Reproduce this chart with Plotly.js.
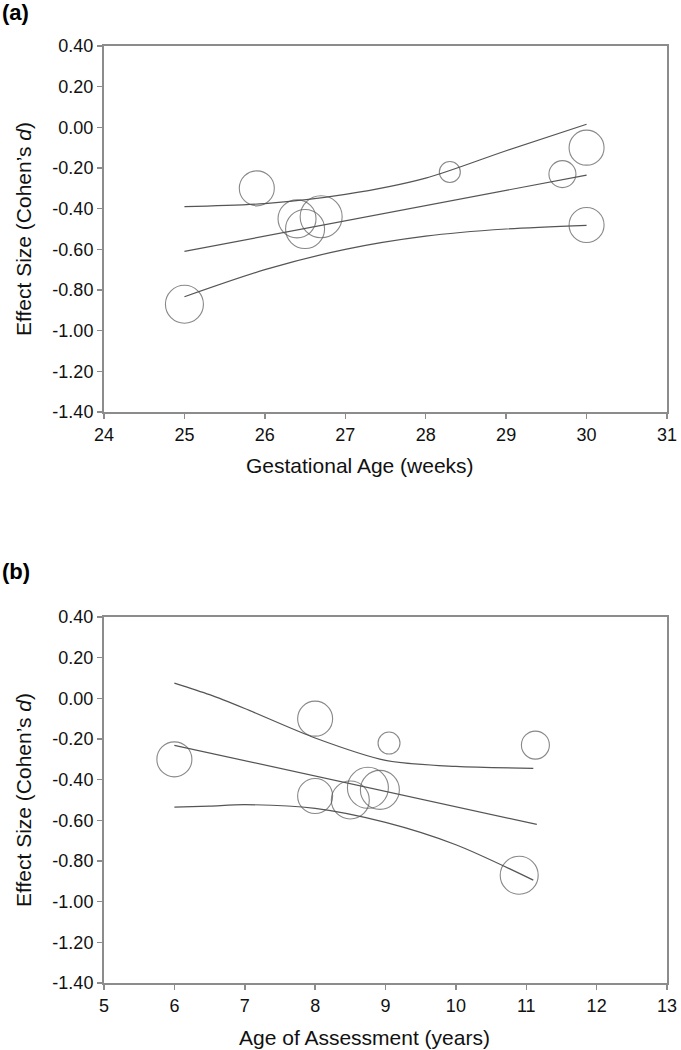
<!DOCTYPE html>
<html>
<head>
<meta charset="utf-8">
<script src="https://cdn.plot.ly/plotly-3.0.1.min.js"></script>
<style>html,body{margin:0;padding:0;background:#fff;}#chart{width:681px;height:1050px;}</style>
</head>
<body>
<div id="chart"></div>
<script>
// ---- Panel (a): gestational age ----
const aStudyX = [25.9, 26.4, 26.5, 26.7, 25.0, 28.3, 29.7, 30.0, 30.0];
const aStudyY = [-0.30, -0.45, -0.50, -0.44, -0.87, -0.22, -0.23, -0.10, -0.48];
const aStudySize = [35, 38, 39, 42, 38, 21, 27, 35, 35];
const aFitX = [25, 30];
const aFitY = [-0.61, -0.235];
const aBandX = [25, 26, 27, 28, 29, 30];
const aUpper = [-0.39, -0.375, -0.33, -0.25, -0.115, 0.015];
const aLower = [-0.833, -0.70, -0.60, -0.535, -0.50, -0.482];

// ---- Panel (b): age of assessment ----
const bStudyX = [6.0, 8.92, 8.5, 8.75, 10.9, 9.05, 11.13, 8.0, 8.0];
const bStudyY = [-0.30, -0.45, -0.50, -0.44, -0.87, -0.22, -0.23, -0.10, -0.48];
const bStudySize = [35, 39, 38, 41, 38, 22, 28, 35, 35];
const bFitX = [6.0, 11.15];
const bFitY = [-0.231, -0.62];
const bBandX = [6, 6.5, 7, 8, 9, 10, 11.1];
const bUpper = [0.075, 0.018, -0.05, -0.195, -0.305, -0.335, -0.344];
const bLower = [-0.535, -0.53, -0.523, -0.541, -0.61, -0.72, -0.894];

// tick labels
const yTickVals = [0.4, 0.2, 0.0, -0.2, -0.4, -0.6, -0.8, -1.0, -1.2, -1.4];
const yTickText = ['0.40', '0.20', '0.00', '-0.20', '-0.40', '-0.60', '-0.80', '-1.00', '-1.20', '-1.40'];
const aXTicks = [24, 25, 26, 27, 28, 29, 30, 31];
const bXTicks = [5, 6, 7, 8, 9, 10, 11, 12, 13];

const lineC = '#555555';
const FONT = 'Liberation Sans, Arial, sans-serif';

function lineTrace(x, y, xa, ya, shape) {
  return {x: x, y: y, xaxis: xa, yaxis: ya, type: 'scatter', mode: 'lines',
    line: {color: lineC, width: 1.2, shape: shape || 'linear', smoothing: 0.8},
    hoverinfo: 'skip', showlegend: false};
}
function studyTrace(x, y, s, xa, ya) {
  return {x: x, y: y, xaxis: xa, yaxis: ya, type: 'scatter', mode: 'markers',
    marker: {symbol: 'circle-open', size: s, color: lineC, line: {width: 1.1, color: lineC}},
    showlegend: false};
}

const data = [
  lineTrace(aBandX, aUpper, 'x', 'y', 'spline'),
  lineTrace(aFitX, aFitY, 'x', 'y'),
  lineTrace(aBandX, aLower, 'x', 'y', 'spline'),
  studyTrace(aStudyX, aStudyY, aStudySize, 'x', 'y'),
  lineTrace(bBandX, bUpper, 'x2', 'y2', 'spline'),
  lineTrace(bFitX, bFitY, 'x2', 'y2'),
  lineTrace(bBandX, bLower, 'x2', 'y2', 'spline'),
  studyTrace(bStudyX, bStudyY, bStudySize, 'x2', 'y2')
];

const axisCommon = {
  showgrid: false, zeroline: false, showline: true, mirror: true,
  linecolor: '#8c8c8c', linewidth: 2, ticks: 'outside', ticklen: 5,
  tickcolor: '#8c8c8c', tickwidth: 1.5,
  tickfont: {family: FONT, size: 18, color: '#111'}
};

const layout = {
  width: 681, height: 1050,
  margin: {l: 104, r: 14, t: 46, b: 67},
  paper_bgcolor: '#fff', plot_bgcolor: '#fff',
  font: {family: FONT, color: '#111'},
  xaxis: Object.assign({}, axisCommon, {range: [24, 31], tickvals: aXTicks, anchor: 'y', domain: [0, 1]}),
  yaxis: Object.assign({}, axisCommon, {range: [-1.4, 0.4], tickvals: yTickVals, ticktext: yTickText, anchor: 'x', domain: [0.6094, 1]}),
  xaxis2: Object.assign({}, axisCommon, {range: [5, 13], tickvals: bXTicks, anchor: 'y2', domain: [0, 1]}),
  yaxis2: Object.assign({}, axisCommon, {range: [-1.4, 0.4], tickvals: yTickVals, ticktext: yTickText, anchor: 'x2', domain: [0, 0.3906]}),
  annotations: [
    {text: '<b>(a)</b>', xref: 'paper', yref: 'paper', x: -0.185, y: 1.0357, xanchor: 'left', yanchor: 'middle',
     showarrow: false, font: {family: FONT, size: 22, color: '#000'}},
    {text: '<b>(b)</b>', xref: 'paper', yref: 'paper', x: -0.185, y: 0.439, xanchor: 'left', yanchor: 'middle',
     showarrow: false, font: {family: FONT, size: 22, color: '#000'}},
    {text: 'Gestational Age (weeks)', xref: 'paper', yref: 'paper', x: (360 - 104) / 563, y: (983 - 465) / 937,
     xanchor: 'center', yanchor: 'middle', showarrow: false, font: {family: FONT, size: 21, color: '#111'}},
    {text: 'Age of Assessment (years)', xref: 'paper', yref: 'paper', x: (364 - 104) / 563, y: (983 - 1037) / 937,
     xanchor: 'center', yanchor: 'middle', showarrow: false, font: {family: FONT, size: 21, color: '#111'}},
    {text: 'Effect Size (Cohen\u2019s <i>d</i>)', xref: 'paper', yref: 'paper', x: (23 - 104) / 563, y: (983 - 229) / 937,
     xanchor: 'center', yanchor: 'middle', textangle: -90, showarrow: false, font: {family: FONT, size: 21, color: '#111'}},
    {text: 'Effect Size (Cohen\u2019s <i>d</i>)', xref: 'paper', yref: 'paper', x: (23 - 104) / 563, y: (983 - 800) / 937,
     xanchor: 'center', yanchor: 'middle', textangle: -90, showarrow: false, font: {family: FONT, size: 21, color: '#111'}}
  ]
};

Plotly.newPlot('chart', data, layout, {staticPlot: true, displayModeBar: false});
</script>
</body>
</html>
